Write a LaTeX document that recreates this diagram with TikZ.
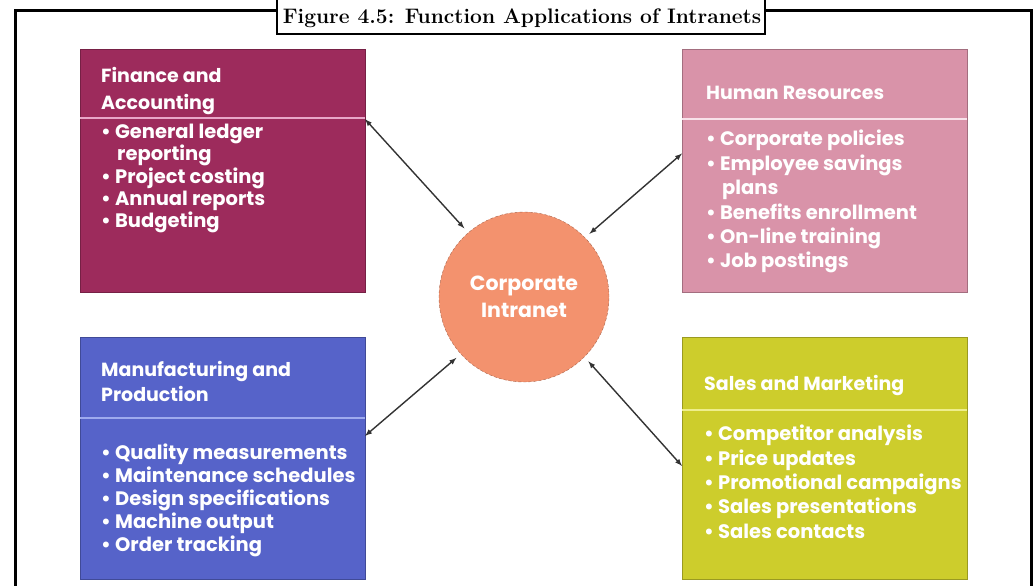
\documentclass[tikz,border=0pt]{standalone}
\usepackage{fontspec}
\newfontfamily\boxfont{Poppins}
\definecolor{fincol}{HTML}{9D2B5C}
\definecolor{finrule}{HTML}{E8A6C8}
\definecolor{hrcol}{HTML}{D993A9}
\definecolor{hrrule}{HTML}{F8E2EA}
\definecolor{mancol}{HTML}{5663C9}
\definecolor{manrule}{HTML}{9EAAEE}
\definecolor{salcol}{HTML}{CDCD2C}
\definecolor{salrule}{HTML}{EEEE8C}
\definecolor{hubcol}{HTML}{F3926E}
\definecolor{linkcol}{HTML}{333333}
\begin{document}
\begin{tikzpicture}[x=1pt,y=-1pt,
  area/.style={rectangle, minimum width=285pt, minimum height=242pt, inner sep=0pt, outer sep=0pt, line width=1pt},
  head/.style={anchor=north west, align=left, inner sep=0pt, text=white, font=\boxfont\bfseries\fontsize{19}{#1}\selectfont},
  head/.default=26,
  items/.style={anchor=north west, align=left, inner sep=0pt, text=white, font=\boxfont\bfseries\fontsize{19.5}{#1}\selectfont},
  items/.default=23,
  rule/.style={line width=2pt},
  link/.style={<->, >=latex, line width=1.4pt, draw=linkcol}]
\useasboundingbox (0,0) rectangle (1033,586);
\clip (0,0) rectangle (1033,586);
\draw[line width=3pt] (15,600) -- (15,11) -- (1031,11) -- (1031,600);
\draw[line width=2.5pt, fill=white] (277,-10) rectangle (765,34);
\node[font=\bfseries\fontsize{21}{22}\selectfont] (title) at (522,18) {Figure 4.5: Function Applications of Intranets};
\node[area, fill=fincol, draw=fincol!75!black] (fin) at (222.5,171) {};
\node[area, fill=hrcol, draw=hrcol!75!black] (hr) at (824.5,171) {};
\node[area, fill=mancol, draw=mancol!75!black] (man) at (222.5,458.5) {};
\node[area, fill=salcol, draw=salcol!75!black] (sal) at (824.5,458.5) {};
\draw[rule, finrule] (80,118) -- (365,118);
\draw[rule, hrrule] (682,119) -- (967,119);
\draw[rule, manrule] (80,418) -- (365,418);
\draw[rule, salrule] (682,410) -- (967,410);
\node[head=27] (finH) at (101,67) {Finance and\\Accounting};
\node[items=22.3] (finL) at (101,124) {\textbullet\ General ledger\\\hspace{16pt}reporting\\\textbullet\ Project costing\\\textbullet\ Annual reports\\\textbullet\ Budgeting};
\node[head] (hrH) at (706,86) {Human Resources};
\node[items=24.4] (hrL) at (706,130) {\textbullet\ Corporate policies\\\textbullet\ Employee savings\\\hspace{16pt}plans\\\textbullet\ Benefits enrollment\\\textbullet\ On-line training\\\textbullet\ Job postings};
\node[head=25] (manH) at (101,361) {Manufacturing and\\Production};
\node[items] (manL) at (101,444) {\textbullet\ Quality measurements\\\textbullet\ Maintenance schedules\\\textbullet\ Design specifications\\\textbullet\ Machine output\\\textbullet\ Order tracking};
\node[head] (salH) at (704,375) {Sales and Marketing};
\node[items=24.3] (salL) at (704,425) {\textbullet\ Competitor analysis\\\textbullet\ Price updates\\\textbullet\ Promotional campaigns\\\textbullet\ Sales presentations\\\textbullet\ Sales contacts};
\node[circle, minimum size=170pt, fill=hubcol, draw=hubcol!70!black, densely dashed, outer sep=6pt, align=center, text=white, font=\boxfont\bfseries\fontsize{20.5}{27}\selectfont] (hub) at (524,297) {Corporate\\Intranet};
\draw[link] (fin.20) -- (hub.131);
\draw[link] (hr.173) -- (hub.44);
\draw[link] (man.9) -- (hub.222);
\draw[link] (sal.183) -- (hub.315);
\end{tikzpicture}
\end{document}
